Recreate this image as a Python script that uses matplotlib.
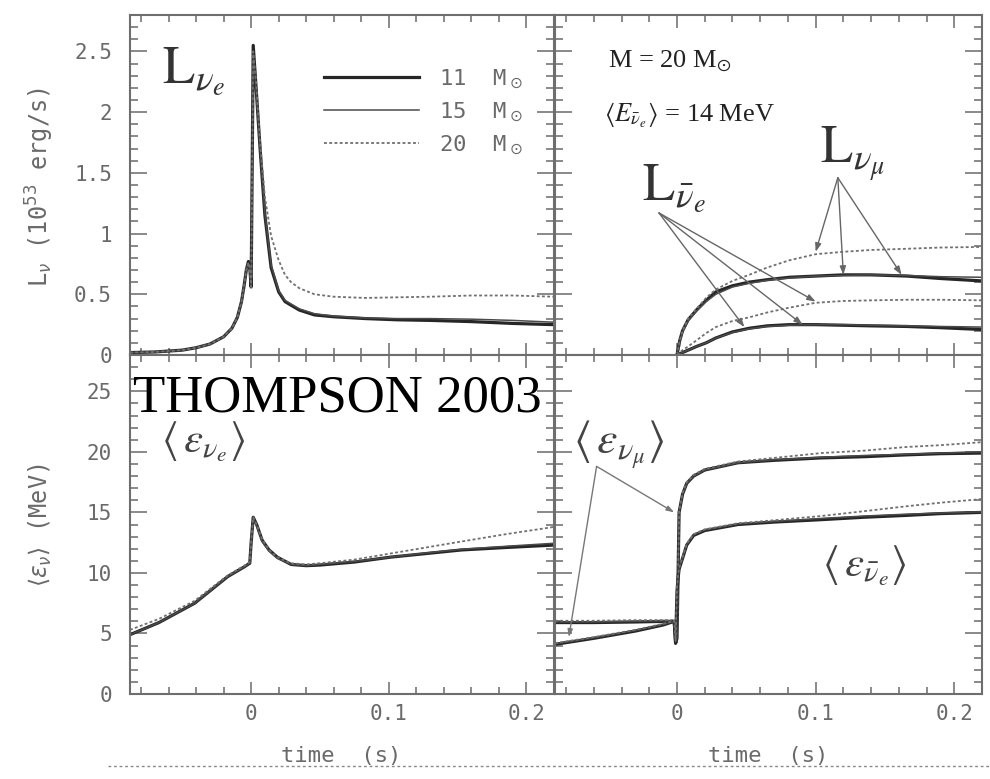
import matplotlib
matplotlib.use('Agg')
import matplotlib.pyplot as plt
from matplotlib.ticker import MultipleLocator
from matplotlib.lines import Line2D

# ---------------- data ----------------
# top-left: electron-neutrino luminosity (1e53 erg/s)
t_le = [-0.088, -0.07, -0.05, -0.04, -0.03, -0.02, -0.014, -0.01, -0.007, -0.005,
        -0.0035, -0.002, -0.001, 0.0, 0.0008, 0.0015, 0.0036, 0.0065, 0.010, 0.0145,
        0.020, 0.0246, 0.029, 0.035, 0.046, 0.06, 0.083, 0.106, 0.13, 0.16, 0.19, 0.22]
le_11 = [0.02, 0.025, 0.04, 0.06, 0.09, 0.15, 0.22, 0.31, 0.44, 0.58,
         0.70, 0.77, 0.72, 0.56, 1.6, 2.55, 2.2, 1.7, 1.15, 0.72,
         0.52, 0.44, 0.41, 0.37, 0.33, 0.315, 0.30, 0.29, 0.285, 0.275, 0.26, 0.25]
le_15 = [0.02, 0.025, 0.04, 0.06, 0.09, 0.15, 0.22, 0.31, 0.44, 0.58,
         0.70, 0.76, 0.71, 0.56, 1.55, 2.5, 2.18, 1.7, 1.17, 0.74,
         0.53, 0.45, 0.42, 0.38, 0.34, 0.32, 0.305, 0.30, 0.30, 0.295, 0.285, 0.27]
le_20 = [0.02, 0.025, 0.04, 0.06, 0.09, 0.15, 0.22, 0.31, 0.44, 0.58,
         0.70, 0.76, 0.71, 0.56, 1.55, 2.5, 2.25, 1.75, 1.3, 0.98,
         0.78, 0.66, 0.60, 0.55, 0.50, 0.48, 0.47, 0.475, 0.48, 0.49, 0.49, 0.48]

# top-right: anti-nu_e and nu_mu luminosities
t_lr = [0.0, 0.002, 0.004, 0.008, 0.014, 0.021, 0.028, 0.04, 0.052, 0.065,
        0.081, 0.1, 0.12, 0.14, 0.166, 0.19, 0.22]
lmu_11 = [0.0, 0.12, 0.2, 0.29, 0.37, 0.45, 0.52, 0.57, 0.60, 0.62,
          0.64, 0.65, 0.66, 0.66, 0.65, 0.63, 0.61]
lmu_15 = [0.0, 0.11, 0.19, 0.28, 0.36, 0.44, 0.50, 0.56, 0.59, 0.615,
          0.635, 0.65, 0.655, 0.66, 0.655, 0.645, 0.64]
lmu_20 = [0.0, 0.12, 0.2, 0.30, 0.38, 0.47, 0.54, 0.61, 0.66, 0.72,
          0.78, 0.83, 0.85, 0.865, 0.875, 0.885, 0.89]
lbar_11 = [0.0, 0.01, 0.02, 0.04, 0.07, 0.10, 0.14, 0.19, 0.22, 0.24,
           0.25, 0.25, 0.245, 0.24, 0.235, 0.225, 0.21]
lbar_15 = [0.0, 0.01, 0.02, 0.04, 0.07, 0.10, 0.14, 0.185, 0.215, 0.235,
           0.245, 0.25, 0.25, 0.245, 0.24, 0.235, 0.23]
lbar_20 = [0.0, 0.02, 0.04, 0.07, 0.12, 0.18, 0.23, 0.28, 0.31, 0.35,
           0.39, 0.43, 0.445, 0.45, 0.455, 0.455, 0.45]

# bottom-left: mean nu_e energy (MeV)
t_el = [-0.088, -0.067, -0.041, -0.017, -0.005, -0.001, 0.0, 0.0015, 0.004, 0.008,
        0.013, 0.019, 0.029, 0.04, 0.05, 0.075, 0.101, 0.127, 0.153, 0.185, 0.22]
ee_11 = [4.9, 5.9, 7.5, 9.7, 10.5, 10.8, 12.5, 14.6, 14.0, 12.7,
         11.9, 11.3, 10.7, 10.6, 10.65, 10.9, 11.3, 11.6, 11.9, 12.1, 12.3]
ee_15 = [4.9, 5.9, 7.5, 9.7, 10.5, 10.8, 12.5, 14.5, 13.9, 12.6,
         11.8, 11.2, 10.7, 10.6, 10.7, 10.95, 11.3, 11.65, 11.95, 12.2, 12.45]
ee_20 = [5.3, 6.2, 7.7, 9.8, 10.6, 10.9, 12.6, 14.6, 14.0, 12.8,
         11.9, 11.3, 10.8, 10.7, 10.8, 11.1, 11.6, 12.1, 12.6, 13.2, 13.8]

# bottom-right: mean nu_mu and anti-nu_e energies (MeV)
t_er = [-0.088, -0.06, -0.03, -0.01, -0.002, -0.001, 0.0, 0.0008, 0.0015, 0.004,
        0.007, 0.012, 0.02, 0.044, 0.07, 0.104, 0.135, 0.165, 0.19, 0.22]
emu_11 = [5.9, 5.9, 5.95, 6.0, 6.0, 4.2, 4.6, 10.0, 15.0, 16.5,
          17.4, 18.0, 18.5, 19.1, 19.3, 19.5, 19.6, 19.75, 19.85, 19.9]
emu_15 = [5.95, 5.95, 6.0, 6.05, 6.05, 4.3, 4.7, 10.1, 15.0, 16.5,
          17.4, 18.0, 18.5, 19.1, 19.35, 19.55, 19.7, 19.8, 19.9, 20.0]
emu_20 = [6.05, 6.05, 6.1, 6.1, 6.1, 4.4, 4.8, 10.2, 15.1, 16.6,
          17.5, 18.1, 18.6, 19.2, 19.5, 19.9, 20.1, 20.4, 20.55, 20.8]
ebar_11 = [4.1, 4.6, 5.2, 5.7, 6.0, 4.2, 8.5, 9.6, 10.3, 11.2,
           12.3, 13.1, 13.5, 14.0, 14.2, 14.4, 14.6, 14.75, 14.9, 15.0]
ebar_15 = [4.15, 4.65, 5.25, 5.75, 6.0, 4.3, 8.6, 9.7, 10.35, 11.25,
           12.35, 13.15, 13.55, 14.05, 14.25, 14.5, 14.7, 14.85, 14.95, 15.05]
ebar_20 = [4.2, 4.7, 5.3, 5.8, 6.05, 4.4, 8.7, 9.8, 10.4, 11.3,
           12.4, 13.2, 13.6, 14.1, 14.35, 14.7, 15.1, 15.5, 15.8, 16.1]

legend_labels = ['11  M$_\\odot$', '15  M$_\\odot$', '20  M$_\\odot$']
lum_yticks = [0, 0.5, 1, 1.5, 2, 2.5]
lum_yticklabels = ['0', '0.5', '1', '1.5', '2', '2.5']
en_yticks = [0, 5, 10, 15, 20, 25]
time_ticks = [0, 0.1, 0.2]
time_ticklabels = ['0', '0.1', '0.2']

# ---------------- styles ----------------
GRAY = '#6a6a6a'
MONO = 'DejaVu Sans Mono'
s11 = dict(color='#262626', lw=2.3, ls='-')
s15 = dict(color='#4a4a4a', lw=1.1, ls='-')
s20 = dict(color='#707070', lw=1.3, ls=(0, (1.6, 1.3)))

fig = plt.figure(figsize=(9.9, 7.79), dpi=100)
W, H = 990.0, 779.0
ax_tl = fig.add_axes([130/W, 1-355/H, 424/W, 340/H])
ax_tr = fig.add_axes([555/W, 1-355/H, 427/W, 340/H])
ax_bl = fig.add_axes([130/W, 1-694/H, 424/W, 339/H])
ax_br = fig.add_axes([555/W, 1-694/H, 427/W, 339/H])


def style(ax, top, left):
    ax.set_xlim(-0.088, 0.22)
    if top:
        ax.set_ylim(0, 2.8)
        ax.set_yticks(lum_yticks)
        ax.yaxis.set_minor_locator(MultipleLocator(0.1))
    else:
        ax.set_ylim(0, 28)
        ax.set_yticks(en_yticks)
        ax.yaxis.set_minor_locator(MultipleLocator(1))
    ax.set_xticks(time_ticks)
    ax.xaxis.set_minor_locator(MultipleLocator(0.02))
    ax.tick_params(which='both', direction='in', top=True, right=True,
                   color=GRAY, width=1.1, labelcolor=GRAY, labelsize=15)
    ax.tick_params(axis='y', which='major', length=12, pad=13)
    ax.tick_params(axis='y', which='minor', length=5.5)
    ax.tick_params(axis='x', which='major', length=9, pad=7)
    ax.tick_params(axis='x', which='minor', length=5)
    if top:
        ax.set_xticklabels([])
    else:
        ax.set_xticklabels(time_ticklabels, fontfamily=MONO)
    if left:
        if top:
            ax.set_yticklabels(lum_yticklabels, fontfamily=MONO)
        else:
            ax.set_yticklabels([str(v) for v in en_yticks], fontfamily=MONO)
    else:
        ax.set_yticklabels([])
    for sp in ax.spines.values():
        sp.set_color('#6e6e6e')
        sp.set_linewidth(1.5)


for ax, top, left in [(ax_tl, True, True), (ax_tr, True, False),
                      (ax_bl, False, True), (ax_br, False, False)]:
    style(ax, top, left)

# top-left
h11, = ax_tl.plot(t_le, le_11, **s11)
h15, = ax_tl.plot(t_le, le_15, **s15)
h20, = ax_tl.plot(t_le, le_20, **s20)
ax_tl.legend([h11, h15, h20], legend_labels, loc='upper left',
             bbox_to_anchor=(0.41, 0.905), frameon=False, handlelength=4.3,
             handletextpad=0.9, labelspacing=0.45, labelcolor=GRAY,
             prop={'family': MONO, 'size': 16})
ax_tl.text(0.075, 0.80, r'$\mathrm{L}_{\nu_e}$', transform=ax_tl.transAxes,
           fontsize=38, color='#333333', math_fontfamily='stix', va='baseline')

# top-right
for y, s in [(lmu_11, s11), (lmu_15, s15), (lmu_20, s20),
             (lbar_11, s11), (lbar_15, s15), (lbar_20, s20)]:
    ax_tr.plot(t_lr, y, **s)
ax_tr.text(0.124, 0.847, r'M = 20 M$_{\odot}$', transform=ax_tr.transAxes,
           fontsize=19, family='Liberation Serif', math_fontfamily='stix',
           color='#222222', va='baseline')
ax_tr.text(0.115, 0.685, r'$\left\langle E_{\bar{\nu}_e}\right\rangle$ = 14 MeV',
           transform=ax_tr.transAxes, fontsize=19, family='Liberation Serif',
           math_fontfamily='stix', color='#222222', va='baseline')
ax_tr.text(0.204, 0.456, r'$\mathrm{L}_{\bar{\nu}_e}$', transform=ax_tr.transAxes,
           fontsize=38, color='#333333', math_fontfamily='stix', va='baseline')
ax_tr.text(0.62, 0.565, r'$\mathrm{L}_{\nu_\mu}$', transform=ax_tr.transAxes,
           fontsize=38, color='#333333', math_fontfamily='stix', va='baseline')
arrow_kw = dict(arrowstyle='-|>,head_length=0.5,head_width=0.18', color='#666666', lw=1.0,
                shrinkA=0, shrinkB=0)
for xy in [(0.0486, 0.23), (0.0906, 0.25), (0.10, 0.44)]:
    ax_tr.annotate('', xy=xy, xytext=(-0.013, 1.17), arrowprops=arrow_kw)
for xy in [(0.10, 0.85), (0.12, 0.66), (0.162, 0.66)]:
    ax_tr.annotate('', xy=xy, xytext=(0.116, 1.46), arrowprops=arrow_kw)

# bottom-left
ax_bl.plot(t_el, ee_11, **s11)
ax_bl.plot(t_el, ee_15, **s15)
ax_bl.plot(t_el, ee_20, **s20)
ax_bl.text(0.007, 0.943, 'THOMPSON 2003', transform=ax_bl.transAxes,
           fontsize=38, family='Liberation Serif', color='black', va='top')
ax_bl.text(0.073, 0.745, r'$\left\langle\, \varepsilon_{\nu_e} \right\rangle$',
           transform=ax_bl.transAxes, fontsize=31, color='#444444',
           math_fontfamily='stix', va='center')

# bottom-right
for y, s in [(emu_11, s11), (emu_15, s15), (emu_20, s20),
             (ebar_11, s11), (ebar_15, s15), (ebar_20, s20)]:
    ax_br.plot(t_er, y, **s)
ax_br.text(0.042, 0.735, r'$\left\langle\, \varepsilon_{\nu_\mu} \right\rangle$',
           transform=ax_br.transAxes, fontsize=33, color='#444444',
           math_fontfamily='stix', va='center')
ax_br.text(0.625, 0.38, r'$\left\langle\, \varepsilon_{\bar{\nu}_e} \right\rangle$',
           transform=ax_br.transAxes, fontsize=31, color='#444444',
           math_fontfamily='stix', va='center')
arrow_kw2 = dict(arrowstyle='-|>,head_length=0.45,head_width=0.15', color='#777777', lw=1.0,
                 shrinkA=0, shrinkB=0)
for xy in [(-0.002, 15.0), (-0.078, 4.7)]:
    ax_br.annotate('', xy=xy, xytext=(-0.058, 18.8), arrowprops=arrow_kw2)

# axis labels
fig.text(40/W, 1-187/H, r'L$_\nu$ (10$^{53}$ erg/s)', rotation=90, ha='center',
         va='center', fontsize=17, family=MONO, color=GRAY)
fig.text(40/W, 1-525/H, r'$\langle\varepsilon_\nu\rangle$ (MeV)', rotation=90,
         ha='center', va='center', fontsize=17, family=MONO, color=GRAY)
fig.text(341/W, 1-756/H, 'time  (s)', ha='center', va='center', fontsize=16,
         family=MONO, color=GRAY)
fig.text(768/W, 1-756/H, 'time  (s)', ha='center', va='center', fontsize=16,
         family=MONO, color=GRAY)
fig.add_artist(Line2D([108/W, 990/W], [1-766/H, 1-766/H], transform=fig.transFigure,
                      color='#888888', lw=1.0, ls=(0, (2, 2))))

fig.savefig('out.png', dpi=100)
